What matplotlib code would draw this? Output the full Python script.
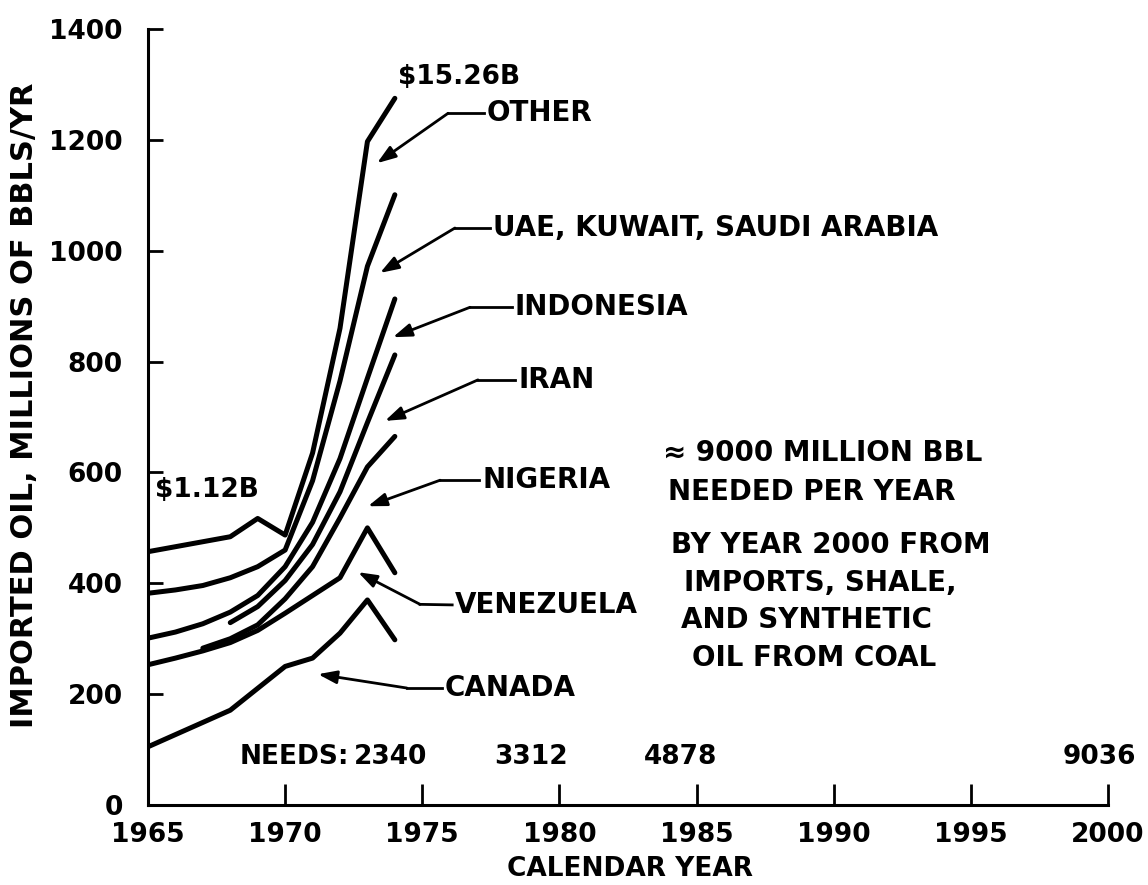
import matplotlib.pyplot as plt

plt.rcParams['font.family'] = ['DejaVu Sans']
plt.rcParams['font.weight'] = 'bold'

# cumulative imported oil, millions of bbl / yr
canada_yrs = [1965, 1968, 1970, 1971, 1972, 1973, 1974]
canada = [105, 171, 250, 265, 310, 370, 298]

venez_yrs = [1965, 1966, 1967, 1968, 1969, 1970, 1971, 1972, 1973, 1974]
venezuela = [253, 265, 278, 293, 315, 346, 378, 410, 500, 419]

nigeria_yrs = [1967, 1968, 1969, 1970, 1971, 1972, 1973, 1974]
nigeria = [283, 300, 325, 372, 430, 518, 610, 665]

iran_yrs = [1968, 1969, 1970, 1971, 1972, 1973, 1974]
iran = [329, 358, 405, 470, 565, 690, 812]

indo_yrs = [1965, 1966, 1967, 1968, 1969, 1970, 1971, 1972, 1973, 1974]
indonesia = [301, 312, 327, 348, 378, 430, 510, 625, 770, 913]

uae_yrs = [1965, 1966, 1967, 1968, 1969, 1970, 1971, 1972, 1973, 1974]
uae = [382, 388, 396, 410, 430, 460, 585, 765, 972, 1101]

other_yrs = [1965, 1968, 1969, 1970, 1971, 1972, 1973, 1974]
other = [457, 484, 517, 487, 635, 860, 1197, 1275]

needs_yrs = [1975, 1980, 1985, 2000]
needs = [2340, 3312, 4878, 9036]

xticks = [1965, 1970, 1975, 1980, 1985, 1990, 1995, 2000]
yticks = [0, 200, 400, 600, 800, 1000, 1200, 1400]

# label, text pos, elbow, arrow tip (data coords)
labels = [
    ("OTHER", (1977.36, 1248), (1975.94, 1248), (1973.35, 1158)),
    ("UAE, KUWAIT, SAUDI ARABIA", (1977.58, 1041), (1976.19, 1041), (1973.46, 960)),
    ("INDONESIA", (1978.38, 898), (1976.74, 898), (1973.93, 844)),
    ("IRAN", (1978.49, 767), (1977.03, 767), (1973.64, 693)),
    ("NIGERIA", (1977.18, 586), (1975.65, 586), (1973.02, 539)),
    ("VENEZUELA", (1976.19, 361), (1974.92, 362), (1972.66, 420)),
    ("CANADA", (1975.83, 211), (1974.44, 211), (1971.20, 236)),
]

fig = plt.figure(figsize=(11.48, 8.85), dpi=100)
ax = fig.add_axes([0.1289, 0.0904, 0.8363, 0.8768])

for xs, ys in [(canada_yrs, canada), (venez_yrs, venezuela), (nigeria_yrs, nigeria),
               (iran_yrs, iran), (indo_yrs, indonesia), (uae_yrs, uae), (other_yrs, other)]:
    ax.plot(xs, ys, color='black', lw=3.6, solid_joinstyle='round', solid_capstyle='round')

for name, tpos, elbow, tip in labels:
    ax.text(tpos[0], tpos[1], name, fontsize=20, fontweight='bold', va='center', ha='left')
    ax.plot([elbow[0], tpos[0] - 0.1], [elbow[1], tpos[1]], color='black', lw=2)
    ax.annotate("", xy=tip, xytext=elbow,
                arrowprops=dict(arrowstyle='-|>,head_length=0.8,head_width=0.28',
                                color='black', lw=2, mutation_scale=14,
                                shrinkA=0, shrinkB=0))

ax.text(1976.34, 1313, "$15.26B", fontsize=19, ha='center', va='center')
ax.text(1965.26, 568, "$1.12B", fontsize=19, ha='left', va='center')

ax.text(1968.35, 87, "NEEDS:", fontsize=19, ha='left', va='center')
needs_dx = [-1.14, -1.04, -0.57, -0.33]
for yr, v, dx in zip(needs_yrs, needs, needs_dx):
    ax.text(yr + dx, 87, str(v), fontsize=19, ha='center', va='center')

block = ["\u2248 9000 MILLION BBL", "NEEDED PER YEAR", "BY YEAR 2000 FROM",
         "IMPORTS, SHALE,", "AND SYNTHETIC", "OIL FROM COAL"]
block_y = [635, 565, 469, 400, 334, 265]
block_x = [1989.6, 1989.2, 1989.9, 1989.5, 1989.0, 1989.3]
for s, bx, by in zip(block, block_x, block_y):
    ax.text(bx, by, s, fontsize=20, ha='center', va='center')

ax.set_xlim(1965, 2000)
ax.set_ylim(0, 1400)
ax.set_xticks(xticks)
ax.set_yticks(yticks)
ax.tick_params(axis='x', direction='in', length=15, width=2, pad=12, labelsize=19)
ax.tick_params(axis='y', direction='in', length=11, width=2, pad=18, labelsize=19)
for s in ['top', 'right']:
    ax.spines[s].set_visible(False)
for s in ['left', 'bottom']:
    ax.spines[s].set_linewidth(2.2)

ax.set_xlabel("CALENDAR YEAR", fontsize=19, fontweight='bold')
ax.xaxis.set_label_coords(0.502, -0.066)
ax.set_ylabel("IMPORTED OIL, MILLIONS OF BBLS/YR", fontsize=22, fontweight='bold')
ax.yaxis.set_label_coords(-0.113, 0.515)

fig.savefig("out.png", dpi=100)
